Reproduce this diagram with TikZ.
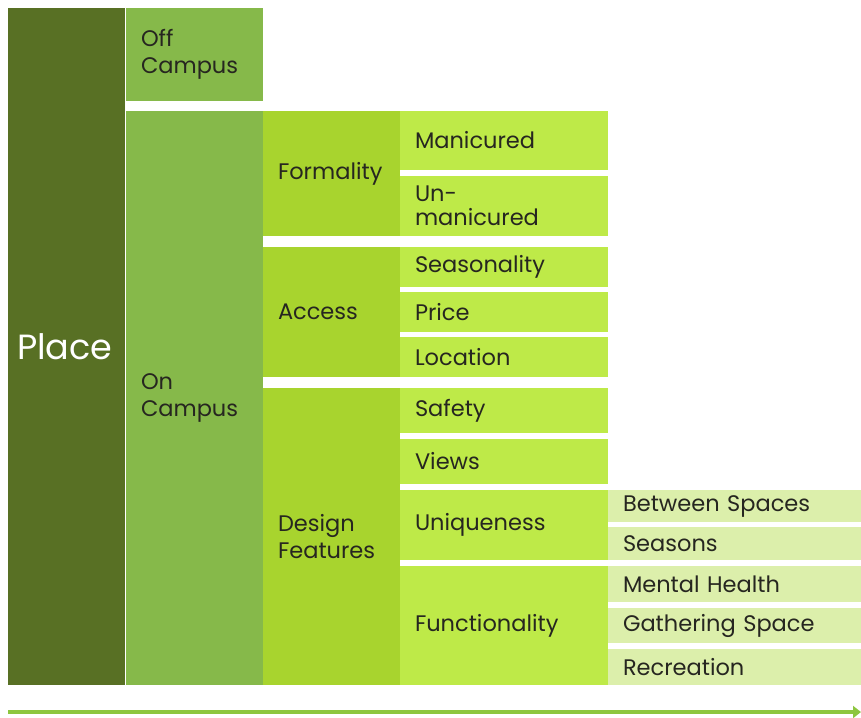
\documentclass[tikz,border=0pt]{standalone}
\usepackage{fontspec}
\setmainfont{Poppins}
\usetikzlibrary{arrows.meta}
\definecolor{cPlace}{HTML}{587024}
\definecolor{cCampus}{HTML}{86B94A}
\definecolor{cLThree}{HTML}{A8D42E}
\definecolor{cLFour}{HTML}{BEEA48}
\definecolor{cLFive}{HTML}{DCEFAB}
\definecolor{cArrow}{HTML}{8DC63F}
\definecolor{cText}{HTML}{262620}
\tikzset{
  cellbox/.style={rectangle, draw=none, inner xsep=15pt, inner ysep=0pt, align=left,
    text=cText, font=\fontsize{22.5}{27}\selectfont},
  placebox/.style={inner xsep=9pt, text=white, font=\fontsize{35}{40}\selectfont},
  axisarrow/.style={draw=cArrow, line width=3.5pt, -{Triangle[length=8pt,width=12pt]}}
}
\newcommand\cell[8][]{%
  \pgfmathsetmacro\cw{#5-#3}\pgfmathsetmacro\ch{#6-#4}\pgfmathsetmacro\tw{#5-#3-30}%
  \node[cellbox, fill=#7, minimum width=\cw pt, minimum height=\ch pt, text width=\tw pt, #1]
    (#2) at ({(#3+#5)/2},{(#4+#6)/2}) {#8};}
\begin{document}
\begin{tikzpicture}[x=1pt,y=-1pt]
\useasboundingbox (0,0) rectangle (861,717);
% level 1
\cell[placebox, text width=99pt]{place}{8}{8}{125}{685}{cPlace}{Place}
% level 2
\cell{off}{126}{8}{263}{101}{cCampus}{Off\\Campus}
\cell{on}{126}{111}{263}{685}{cCampus}{On\\Campus}
% level 3
\cell{form}{263}{111}{400}{236}{cLThree}{Formality}
\cell{access}{263}{247}{400}{377}{cLThree}{Access}
\cell{design}{263}{388}{400}{685}{cLThree}{Design\\Features}
% level 4
\cell{mani}{400}{111}{608}{170}{cLFour}{Manicured}
\cell[font=\fontsize{22.5}{24}\selectfont]{unmani}{400}{176}{608}{236}{cLFour}{Un-\\manicured}
\cell{season}{400}{247}{608}{287}{cLFour}{Seasonality}
\cell{price}{400}{292}{608}{332}{cLFour}{Price}
\cell{loc}{400}{337}{608}{377}{cLFour}{Location}
\cell{safety}{400}{388}{608}{433}{cLFour}{Safety}
\cell{views}{400}{439}{608}{484}{cLFour}{Views}
\cell{unique}{400}{490}{608}{560}{cLFour}{Uniqueness}
\cell{func}{400}{566}{608}{685}{cLFour}{Functionality}
% level 5
\cell{between}{608}{490}{861}{522}{cLFive}{Between Spaces}
\cell{seasons}{608}{527}{861}{560}{cLFive}{Seasons}
\cell{mental}{608}{566}{861}{602}{cLFive}{Mental Health}
\cell{gather}{608}{608}{861}{643}{cLFive}{Gathering Space}
\cell{recre}{608}{649}{861}{685}{cLFive}{Recreation}
% axis arrow
\coordinate (astart) at (8,712);
\coordinate (aend) at (861,712);
\draw[axisarrow] (astart) -- (aend);
\end{tikzpicture}
\end{document}
